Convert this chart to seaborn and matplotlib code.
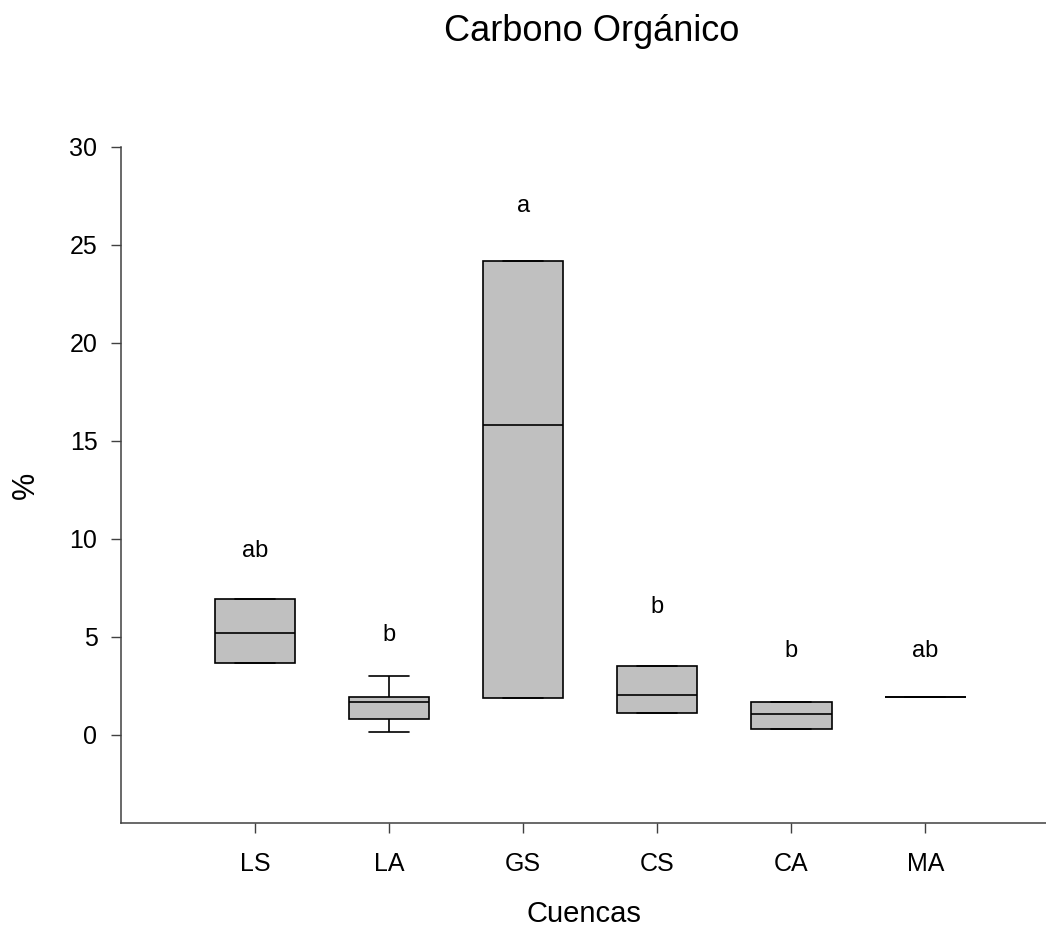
import numpy as np
import pandas as pd
import matplotlib
matplotlib.use("Agg")
import matplotlib.pyplot as plt
import seaborn as sns

# ---- data (five-number summaries: min, Q1, median, Q3, max)
cuencas = ["LS", "LA", "GS", "CS", "CA", "MA"]
ls_vals = [3.67, 3.67, 5.20, 6.94, 6.94]
la_vals = [0.15, 0.82, 1.68, 1.94, 3.00]
gs_vals = [1.90, 1.90, 15.8, 24.2, 24.2]
cs_vals = [1.12, 1.12, 2.04, 3.52, 3.52]
ca_vals = [0.31, 0.31, 1.07, 1.68, 1.68]
ma_vals = [1.94, 1.94, 1.94, 1.94, 1.94]
letras = ["ab", "b", "a", "b", "b", "ab"]
letra_y = [9.08, 4.80, 26.7, 6.22, 3.98, 3.98]
yticks = [0, 5, 10, 15, 20, 25, 30]

sns.set_style("ticks")
plt.rcParams["font.family"] = ["Liberation Sans", "DejaVu Sans"]
plt.rcParams["text.color"] = "black"
plt.rcParams["axes.labelcolor"] = "black"

valores = [ls_vals, la_vals, gs_vals, cs_vals, ca_vals, ma_vals]
df = pd.DataFrame({
    "Cuencas": np.repeat(cuencas, [len(v) for v in valores]),
    "%": np.concatenate(valores),
})

fig = plt.figure(figsize=(10.46, 9.3), dpi=100)
ax = fig.add_axes([0.1157, 0.1151, 0.8843, 0.7269])

sns.boxplot(data=df, x="Cuencas", y="%", order=cuencas, width=0.6,
            color="#c0c0c0", saturation=1, linecolor="black", linewidth=1.2,
            fliersize=0, ax=ax)

for i, (l, y) in enumerate(zip(letras, letra_y)):
    ax.text(i, y, l, ha="center", va="baseline", fontsize=17, color="black")

ax.set_xlim(-1, 5.9)
ax.set_ylim(-4.5, 30)
ax.set_yticks(yticks)
sns.despine(ax=ax)
for s in ["left", "bottom"]:
    ax.spines[s].set_color("#404040")
    ax.spines[s].set_linewidth(1.1)

ax.tick_params(axis="both", direction="out", length=7, width=1,
               color="#404040", labelsize=18, labelcolor="black")
ax.tick_params(axis="y", pad=10)
ax.tick_params(axis="x", pad=14)

ax.set_xlabel("Cuencas", fontsize=21, color="black")
ax.xaxis.set_label_coords(0.5, -0.114)
ax.set_ylabel("%", fontsize=22, color="black")
ax.yaxis.set_label_coords(-0.087, 0.5)

ax.set_title("Carbono Orgánico", fontsize=26, x=0.509, y=1.157, pad=0,
             color="black")

fig.savefig("out.png", dpi=100)
